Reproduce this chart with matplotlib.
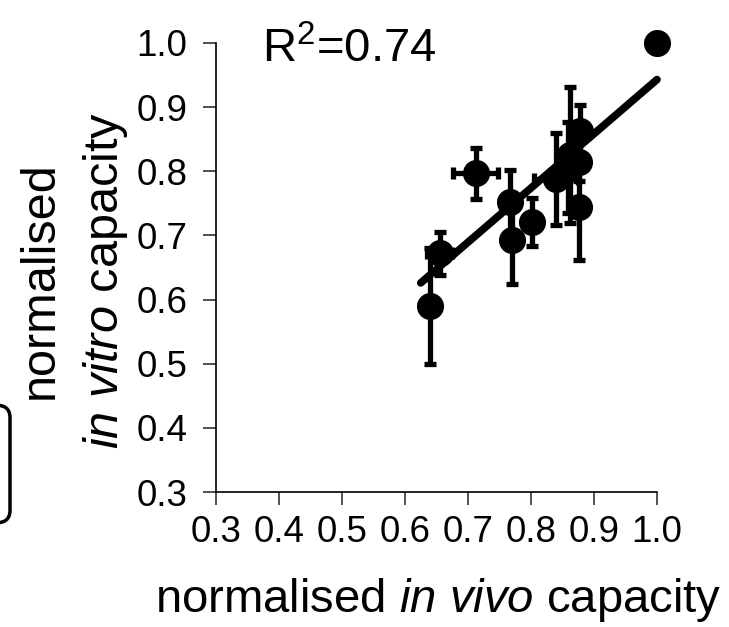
import matplotlib
matplotlib.use("Agg")
import matplotlib.pyplot as plt
from matplotlib.patches import FancyBboxPatch

plt.rcParams['font.family'] = ['Liberation Sans', 'DejaVu Sans']
plt.rcParams['mathtext.fontset'] = 'custom'
plt.rcParams['mathtext.rm'] = 'Liberation Sans'
plt.rcParams['mathtext.it'] = 'Liberation Sans:italic'

# data
in_vivo = [0.640, 0.655, 0.712, 0.767, 0.770, 0.801, 0.840, 0.858, 0.862, 0.876, 0.878, 0.876, 1.000]
in_vitro = [0.590, 0.672, 0.797, 0.752, 0.693, 0.721, 0.788, 0.806, 0.826, 0.815, 0.863, 0.745, 1.000]
vivo_err = [0.005, 0.020, 0.036, 0.005, 0.005, 0.005, 0.035, 0.005, 0.005, 0.005, 0.005, 0.005, 0.0]
vitro_err = [0.090, 0.033, 0.040, 0.050, 0.068, 0.038, 0.072, 0.071, 0.106, 0.030, 0.040, 0.083, 0.0]
fit_x = [0.625, 1.0]
fit_y = [0.626, 0.943]
r2_text = r'R$^2$=0.74'
ticks = [0.3, 0.4, 0.5, 0.6, 0.7, 0.8, 0.9, 1.0]
tick_labels = ['0.3', '0.4', '0.5', '0.6', '0.7', '0.8', '0.9', '1.0']

W, H = 729, 627
fig = plt.figure(figsize=(W / 100, H / 100), dpi=100)
ax = fig.add_axes([216 / W, 1 - 492 / H, (657 - 216) / W, (492 - 43) / H])

ax.plot(fit_x, fit_y, color='black', lw=5.5, solid_capstyle='round', zorder=2, clip_on=False)
ax.errorbar(in_vivo, in_vitro, xerr=vivo_err, yerr=vitro_err, fmt='o', color='black',
            ms=18.5, elinewidth=3.8, capsize=4.5, capthick=3.8, zorder=3, clip_on=False)

ax.set_xlim(0.3, 1.0)
ax.set_ylim(0.3, 1.0)
ax.set_xticks(ticks)
ax.set_xticklabels(tick_labels)
ax.set_yticks(ticks)
ax.set_yticklabels(tick_labels)
for s in ['top', 'right']:
    ax.spines[s].set_visible(False)
for s in ['left', 'bottom']:
    ax.spines[s].set_linewidth(1.2)
ax.tick_params(direction='out', length=9.5, width=1.2, labelsize=26.5, color='#333333')
ax.tick_params(axis='y', pad=11)
ax.tick_params(axis='x', pad=7)

fig.text(262 / W, 1 - 62 / H, r2_text, fontsize=34, ha='left', va='baseline')
fig.text(438 / W, 1 - 600 / H, r'normalised $\mathit{in\ vivo}$ capacity', fontsize=34,
         ha='center', va='center')
fig.text(40 / W, 1 - 280 / H, 'normalised', fontsize=35, rotation=90, ha='center', va='center')
fig.text(106 / W, 1 - 280 / H, r'$\mathit{in\ vitro}$ capacity', fontsize=35, rotation=90,
         ha='center', va='center')

box = FancyBboxPatch((-40 / W, 1 - 523 / H), 50 / W, 118 / H,
                     boxstyle='round,pad=0,rounding_size=0.02', transform=fig.transFigure,
                     fill=False, lw=2.5, edgecolor='black', clip_on=False)
fig.patches.append(box)

fig.savefig('out.png', dpi=100)
